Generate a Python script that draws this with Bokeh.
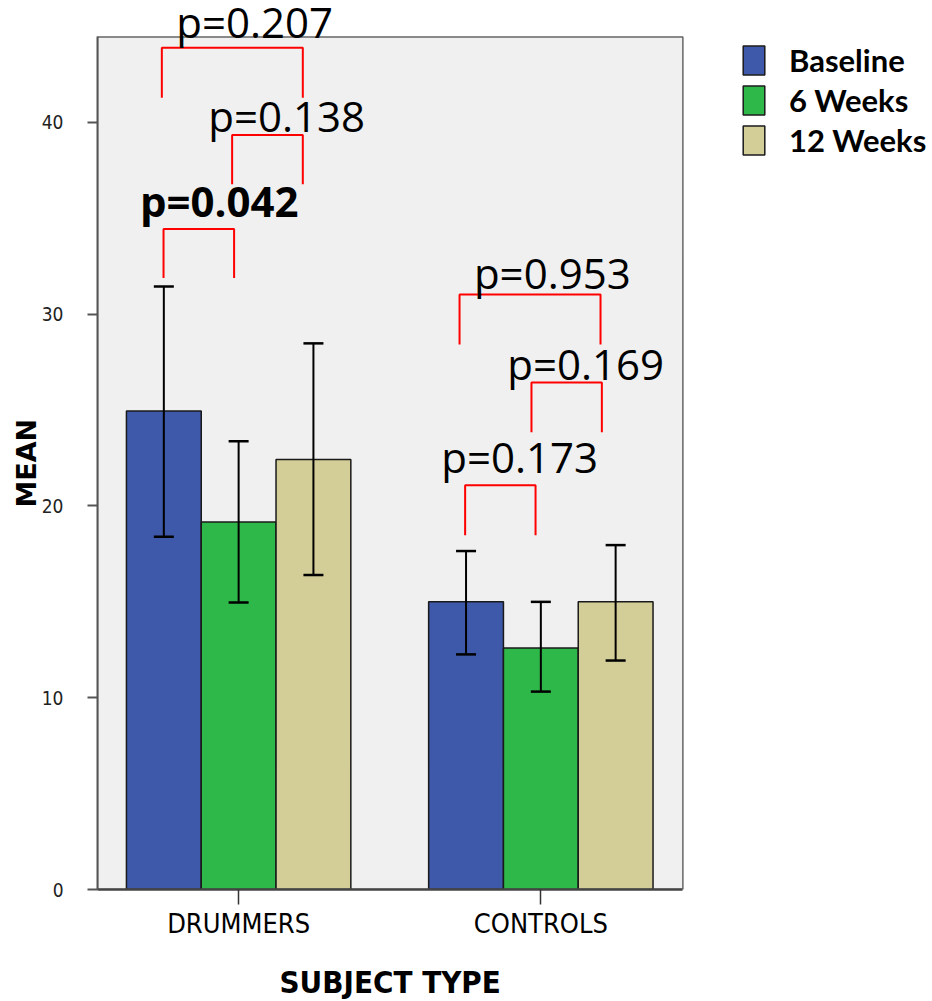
import math
from bokeh.plotting import figure
from bokeh.models import (ColumnDataSource, FixedTicker, Whisker, TeeHead, LabelSet,
                          Label, Legend, LegendItem, Range1d)
from bokeh.core.properties import value
from bokeh.embed import file_html
from bokeh.resources import INLINE

# ---------------- data ----------------
groups = ["DRUMMERS", "CONTROLS"]
series = ["Baseline", "6 Weeks", "12 Weeks"]
colors = ["#3e58aa", "#2fb84a", "#d3ce98"]

baseline_mean = [24.95, 15.00]
weeks6_mean = [19.16, 12.60]
weeks12_mean = [22.43, 15.00]

baseline_upper = [31.45, 17.65]
weeks6_upper = [23.38, 15.00]
weeks12_upper = [28.48, 17.96]

baseline_lower = [18.39, 12.26]
weeks6_lower = [14.97, 10.32]
weeks12_lower = [16.40, 11.94]

y_ticks = [0, 10, 20, 30, 40]

# p-value annotations (data coordinates)
p_text = ["p=0.207", "p=0.138", "p=0.042", "p=0.953", "p=0.169", "p=0.173"]
p_bold = [False, False, True, False, False, False]
p_text_x = [0.7935, 0.8994, 0.6734, 1.7786, 1.8888, 1.6704]
p_text_y = [44.43, 39.51, 35.08, 31.31, 26.56, 21.70]
br_left = [0.7459, 0.9785, 0.7515, 1.7310, 1.9690, 1.7495]
br_right = [1.2124, 1.2124, 0.9850, 2.1975, 2.2019, 1.9825]
br_top = [43.89, 39.35, 34.45, 31.03, 26.44, 21.08]
br_bottom = [41.29, 36.78, 31.89, 28.42, 23.85, 18.48]

# ---------------- layout ----------------
group_pos = [1, 2]
bar_w = 0.2475
offsets = [-bar_w, 0.0, bar_w]
means = [baseline_mean, weeks6_mean, weeks12_mean]
uppers = [baseline_upper, weeks6_upper, weeks12_upper]
lowers = [baseline_lower, weeks6_lower, weeks12_lower]

# plot-area box (data units)
box_x0, box_x1, box_y0, box_y1 = 0.533, 2.470, 0.0, 44.46

p = figure(width=932, height=1001,
           x_range=Range1d(0.533, 3.296), y_range=Range1d(0, 46.36),
           output_backend="svg", toolbar_location=None,
           min_border_left=97, min_border_right=0,
           min_border_top=0, min_border_bottom=112,
           background_fill_color="white", border_fill_color="white")
p.xgrid.visible = False
p.ygrid.visible = False
p.outline_line_color = None

# plot area background with frame line
p.quad(left=[box_x0], right=[box_x1], bottom=[box_y0], top=[box_y1],
       fill_color="#f0f0f0", line_color="#666666", line_width=1.5)

renderers = []
wx, wu, wl = [], [], []
for i, s in enumerate(series):
    xs = [g + offsets[i] for g in group_pos]
    src = ColumnDataSource(dict(x=xs, top=means[i]))
    r = p.vbar(x="x", top="top", bottom=0, width=bar_w, source=src,
               fill_color=colors[i], line_color="#1a1a1a", line_width=1.5)
    renderers.append(r)
    wx += xs
    wu += uppers[i]
    wl += lowers[i]

wsrc = ColumnDataSource(dict(base=wx, upper=wu, lower=wl))
whisk = Whisker(base="base", upper="upper", lower="lower", source=wsrc,
                line_color="black", line_width=2, level="annotation",
                upper_head=TeeHead(size=20, line_width=2.5, line_color="black"),
                lower_head=TeeHead(size=20, line_width=2.5, line_color="black"))
p.add_layout(whisk)

# brackets
bxs = [[l, l, r, r] for l, r in zip(br_left, br_right)]
bys = [[b, t, t, b] for t, b in zip(br_top, br_bottom)]
p.multi_line(xs=bxs, ys=bys, line_color="#ff0000", line_width=2)

# p-value labels
for bold in (False, True):
    idx = [k for k in range(len(p_text)) if p_bold[k] == bold]
    lsrc = ColumnDataSource(dict(x=[p_text_x[k] for k in idx],
                                 y=[p_text_y[k] for k in idx],
                                 t=[p_text[k] for k in idx]))
    p.add_layout(LabelSet(x="x", y="y", text="t", source=lsrc,
                          text_font=value("Open Sans"),
                          text_font_size=value("42px"),
                          text_font_style=value("bold" if bold else "normal"),
                          text_color="black", text_align="left",
                          text_baseline="alphabetic"))

# axes
p.xaxis.bounds = (box_x0 - 0.033, box_x1)
p.xaxis.ticker = FixedTicker(ticks=group_pos)
p.xaxis.major_label_overrides = {g: name for g, name in zip(group_pos, groups)}
p.xaxis.major_label_text_font = "DejaVu Sans Condensed"
p.xaxis.major_label_text_font_size = "27px"
p.xaxis.major_label_text_color = "black"
p.xaxis.major_label_standoff = 3
p.xaxis.major_tick_in = 0
p.xaxis.major_tick_out = 15
p.xaxis.major_tick_line_width = 1.5
p.xaxis.major_tick_line_color = "#333333"
p.xaxis.minor_tick_line_color = None
p.xaxis.axis_line_width = 2.5
p.xaxis.axis_line_color = "#444444"

p.yaxis.bounds = (box_y0, box_y1)
p.yaxis.ticker = FixedTicker(ticks=y_ticks, minor_ticks=[])
p.yaxis.major_label_text_font = "DejaVu Sans Condensed"
p.yaxis.major_label_text_font_size = "19px"
p.yaxis.major_label_text_color = "#222222"
p.yaxis.major_label_standoff = 24
p.yaxis.major_tick_in = 0
p.yaxis.major_tick_out = 10
p.yaxis.major_tick_line_width = 2
p.yaxis.major_tick_line_color = "#555555"
p.yaxis.axis_line_width = 2
p.yaxis.axis_line_color = "#555555"

# axis titles, centred on the plot-area box
box_xc = (box_x0 + box_x1) / 2
box_yc = (box_y0 + box_y1) / 2
p.add_layout(Label(x=0.2981, y=box_yc, text="MEAN", angle=math.pi / 2,
                   text_align="center", text_baseline="middle",
                   text_font="DejaVu Sans", text_font_style="bold",
                   text_font_size="27px", text_color="black"), "left")
p.add_layout(Label(x=box_xc, y=-4.82, text="SUBJECT TYPE",
                   text_align="center", text_baseline="alphabetic",
                   text_font="DejaVu Sans Condensed", text_font_style="bold",
                   text_font_size="31px", text_color="black"), "below")

# legend
legend = Legend(items=[LegendItem(label=s, renderers=[r]) for s, r in zip(series, renderers)],
                location=(643, 729.5), padding=0, margin=0,
                border_line_color=None, background_fill_alpha=0,
                glyph_width=27, glyph_height=36, label_height=40, spacing=0,
                label_standoff=22, label_text_font="Lato", label_text_color="black",
                label_text_font_style="bold", label_text_font_size="31px")
p.add_layout(legend)

open("out.html", "w").write(file_html(p, INLINE))
